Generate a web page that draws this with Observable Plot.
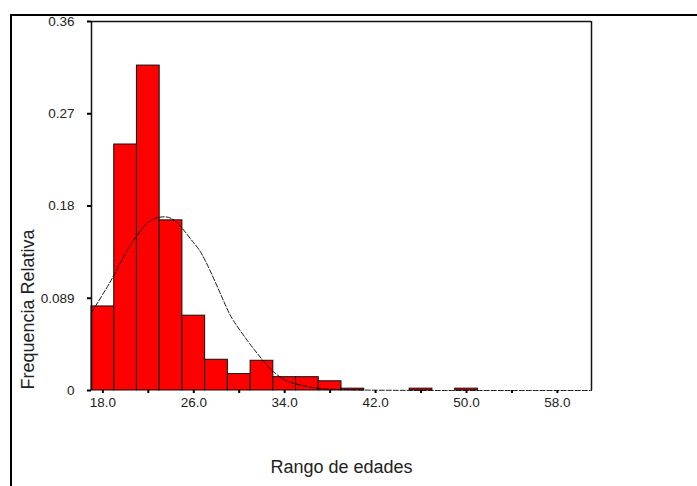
<!DOCTYPE html>
<html><head><meta charset="utf-8">
<script src="https://cdn.jsdelivr.net/npm/d3@7"></script>
<script src="https://cdn.jsdelivr.net/npm/@observablehq/plot@0.6"></script>
<style>
html,body{margin:0;padding:0;background:#fff;}
#wrap{position:relative;width:697px;height:486px;overflow:hidden;background:#fff;}
#wrap svg{position:absolute;left:0;top:0;}
#border{position:absolute;left:10px;top:14px;width:720px;height:520px;border-top:2px solid #000;border-left:2px solid #000;z-index:2;pointer-events:none;}
</style></head><body><div id="wrap"><div id="border"></div></div>
<script>
// Histogram bins (lower edge, age) and relative frequency
const binStart = [17, 19, 21, 23, 25, 27, 29, 31, 33, 35, 37, 39, 45, 49];
const binFreq  = [0.082, 0.240, 0.317, 0.166, 0.073, 0.030, 0.016, 0.029, 0.013, 0.013, 0.009, 0.0018, 0.0018, 0.0018];
const binWidth = 2;

// Fitted normal curve
const curveAge  = [17, 18, 19, 20, 21, 22, 23, 24, 25, 26, 27, 28.6, 29.5, 30.7, 31.6, 32.5, 33.4, 34.5, 36, 37.2, 38.9, 42, 50, 61];
const curveFreq = [0.076, 0.094, 0.113, 0.134, 0.151, 0.164, 0.169, 0.168, 0.158, 0.144, 0.127, 0.088, 0.068, 0.049, 0.036, 0.024, 0.0148, 0.008, 0.0039, 0.0017, 0.001, 0.0003, 0, 0];

// Axis ticks
const yTicks = [0, 0.09, 0.18, 0.27, 0.36];
const yTickLabels = ["0", "0.089", "0.18", "0.27", "0.36"];
const xTicks = [18, 22, 26, 30, 34, 38, 42, 46, 50, 54, 58];
const xTickLabels = ["18.0", "", "26.0", "", "34.0", "", "42.0", "", "50.0", "", "58.0"];

const xTitle = "Rango de edades";
const yTitle = "Frequencia Relativa";

const bins = binStart.map((lo, i) => ({lo, hi: lo + binWidth, f: binFreq[i]}));
const curve = curveAge.map((age, i) => ({age, f: curveFreq[i]}));

const chart = Plot.plot({
  width: 697,
  height: 486,
  marginLeft: 91,
  marginRight: 106,
  marginTop: 21,
  marginBottom: 96,
  style: {fontFamily: "'Liberation Sans', Arial, sans-serif", fontSize: "13.5px", color: "#222", background: "#fff"},
  x: {domain: [17, 61]},
  y: {domain: [0, 0.36]},
  marks: [
    Plot.rectY(bins, {x1: "lo", x2: "hi", y: "f", fill: "#ff0000", stroke: "#111", strokeWidth: 1}),
    Plot.line(curve, {x: "age", y: "f", stroke: "#000", strokeWidth: 0.9, strokeDasharray: "5,2", curve: "natural"}),
    Plot.ruleX([17, 61], {stroke: "#111", strokeWidth: 1.5}),
    Plot.ruleY([0.36], {stroke: "#111", strokeWidth: 1.5}),
    Plot.axisY(yTicks, {tickSize: 4, tickPadding: 13, strokeWidth: 2, stroke: "#000", fontSize: 13.5, fill: "#222", label: null,
      tickFormat: d => yTickLabels[yTicks.indexOf(d)]}),
    Plot.axisX(xTicks, {tickSize: 3, tickPadding: 4, strokeWidth: 2, stroke: "#000", fontSize: 13.5, fill: "#222", label: null,
      tickFormat: d => xTickLabels[xTicks.indexOf(d)]}),
    Plot.text([xTitle], {frameAnchor: "bottom", dy: 82, fontSize: 18, fill: "#222"}),
    Plot.text([yTitle], {frameAnchor: "bottom-left", textAnchor: "start", dx: -58, dy: -1, rotate: -90, fontSize: 18, fill: "#222"})
  ]
});
document.getElementById("wrap").appendChild(chart);
</script>
</body></html>
